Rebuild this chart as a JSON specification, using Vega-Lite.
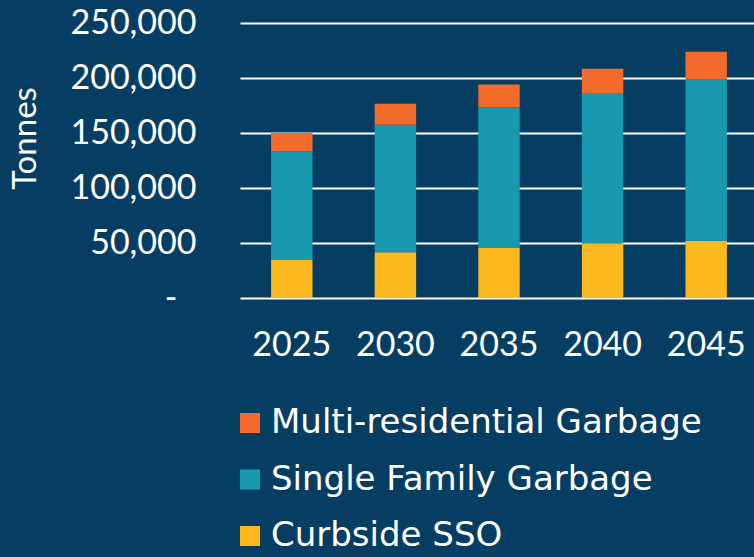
{
  "$schema": "https://vega.github.io/schema/vega-lite/v6.json",
  "autosize": "none",
  "width": 518,
  "height": 275,
  "padding": {"left": 240, "top": 23, "right": 0, "bottom": 259},
  "background": "#053e62",
  "config": {
    "view": {"stroke": null},
    "font": "Lato",
    "axis": {"labelFont": "Lato", "titleFont": "Lato", "labelColor": "#ffffff", "titleColor": "#ffffff"},
    "legend": {"labelFont": "DejaVu Sans"}
  },
  "data": {
    "values": [
      {"Year": "2025", "Type": "Curbside SSO", "Tonnes": 35000},
      {"Year": "2025", "Type": "Single Family Garbage", "Tonnes": 98500},
      {"Year": "2025", "Type": "Multi-residential Garbage", "Tonnes": 16500},
      {"Year": "2030", "Type": "Curbside SSO", "Tonnes": 41500},
      {"Year": "2030", "Type": "Single Family Garbage", "Tonnes": 116000},
      {"Year": "2030", "Type": "Multi-residential Garbage", "Tonnes": 19000},
      {"Year": "2035", "Type": "Curbside SSO", "Tonnes": 45400},
      {"Year": "2035", "Type": "Single Family Garbage", "Tonnes": 128000},
      {"Year": "2035", "Type": "Multi-residential Garbage", "Tonnes": 20600},
      {"Year": "2040", "Type": "Curbside SSO", "Tonnes": 49400},
      {"Year": "2040", "Type": "Single Family Garbage", "Tonnes": 137000},
      {"Year": "2040", "Type": "Multi-residential Garbage", "Tonnes": 22100},
      {"Year": "2045", "Type": "Curbside SSO", "Tonnes": 52100},
      {"Year": "2045", "Type": "Single Family Garbage", "Tonnes": 147000},
      {"Year": "2045", "Type": "Multi-residential Garbage", "Tonnes": 24800}
    ]
  },
  "transform": [
    {"calculate": "indexof(['Curbside SSO','Single Family Garbage','Multi-residential Garbage'], datum.Type)", "as": "stackOrder"}
  ],
  "mark": {"type": "bar"},
  "encoding": {
    "x": {
      "field": "Year", "type": "nominal",
      "scale": {"paddingInner": 0.6, "paddingOuter": 0.3},
      "axis": {"title": null, "labelAngle": 0, "labelFontSize": 34, "labelPadding": 30, "domain": false, "ticks": false, "grid": false}
    },
    "y": {
      "field": "Tonnes", "type": "quantitative", "stack": "zero",
      "scale": {"domain": [0, 250000], "nice": false},
      "axis": {
        "title": "Tonnes",
        "titleFontSize": 33, "titleFontWeight": "normal",
        "titleAngle": -90, "titleBaseline": "alphabetic", "titleAlign": "center",
        "titleX": -205, "titleY": 115,
        "values": [0, 50000, 100000, 150000, 200000, 250000],
        "labelExpr": "datum.value == 0 ? '-' : format(datum.value, ',')",
        "labelFontSize": 34,
        "labelPadding": {"condition": {"test": "datum.value === 0", "value": 63}, "value": 44},
        "domain": false, "ticks": false,
        "grid": true, "gridColor": "#ffffff", "gridWidth": 2, "gridOpacity": 1
      }
    },
    "color": {
      "field": "Type", "type": "nominal",
      "scale": {
        "domain": ["Multi-residential Garbage", "Single Family Garbage", "Curbside SSO"],
        "range": ["#f26b2a", "#1899ad", "#fdb81e"]
      },
      "legend": {
        "title": null, "orient": "none", "legendX": -7, "legendY": 383,
        "direction": "vertical",
        "symbolType": "square", "symbolSize": 400, "symbolOpacity": 1,
        "symbolStrokeWidth": 0,
        "labelFont": "DejaVu Sans",
        "labelFontSize": 34, "labelColor": "#ffffff", "labelOffset": 4,
        "rowPadding": 22.5, "labelLimit": 600
      }
    },
    "order": {"field": "stackOrder", "type": "quantitative"}
  }
}
